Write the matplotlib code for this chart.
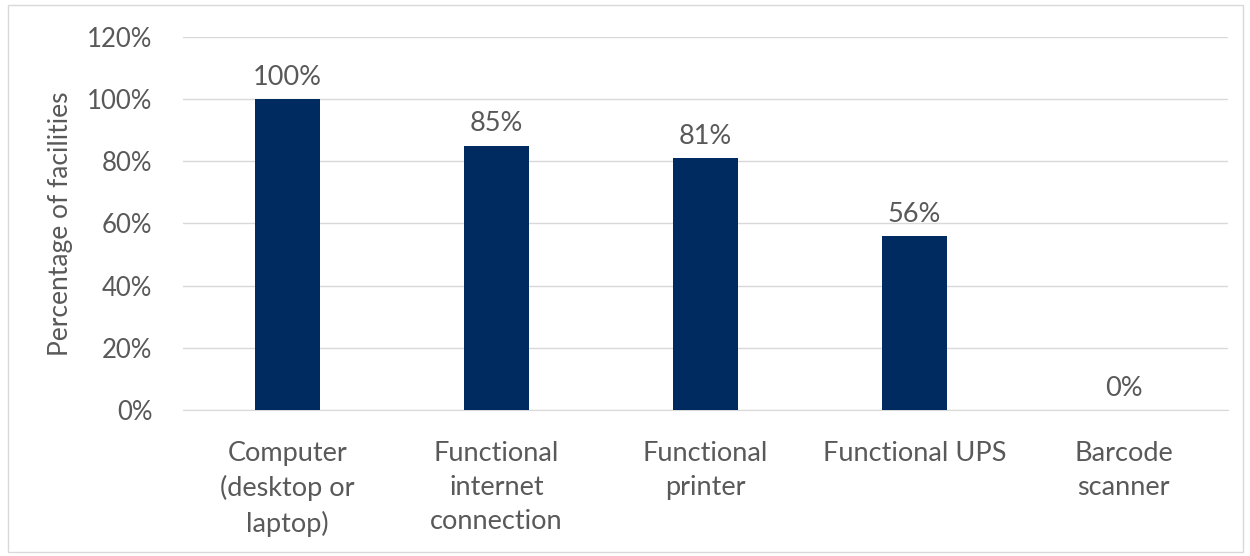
import matplotlib.pyplot as plt
from matplotlib.patches import Rectangle

categories = ["Computer\n(desktop or\nlaptop)", "Functional\ninternet\nconnection",
              "Functional\nprinter", "Functional UPS", "Barcode\nscanner"]
values = [100, 85, 81, 56, 0]
yticks = [0, 20, 40, 60, 80, 100, 120]

plt.rcParams['font.family'] = ['Lato', 'DejaVu Sans']
grey = '#595959'

fig = plt.figure(figsize=(12.5, 5.56), dpi=100)
ax = fig.add_axes([0.1464, 0.2626, 0.836, 0.6709])

x = range(len(categories))
ax.bar(x, values, width=0.31, color='#002b60', zorder=3)
for i, v in zip(x, values):
    ax.text(i, v + 3, f"{v}%", ha='center', va='bottom', fontsize=19.5, color=grey)

ax.set_xlim(-0.5, len(categories) - 0.5)
ax.set_ylim(0, 120)
ax.set_yticks(yticks)
ax.set_yticklabels([f"{t}%" for t in yticks])
ax.set_xticks(list(x))
ax.set_xticklabels(categories, va='top', linespacing=1.45, fontsize=19.5)
ax.tick_params(axis='y', labelsize=18.5)
ax.tick_params(axis='both', length=0, colors=grey)
ax.tick_params(axis='x', pad=22)
ax.tick_params(axis='y', pad=22)
ax.grid(axis='y', color='#d9d9d9', linewidth=1, zorder=0)
for s in ['top', 'right', 'left']:
    ax.spines[s].set_visible(False)
ax.spines['bottom'].set_color('#d9d9d9')
ax.set_ylabel("Percentage of facilities", fontsize=19, color=grey, labelpad=10)

fig.patches.append(Rectangle((0.006, 0.008), 0.988, 0.983, transform=fig.transFigure,
                             fill=False, edgecolor='#d9d9d9', linewidth=1))

fig.savefig("out.png", dpi=100)
